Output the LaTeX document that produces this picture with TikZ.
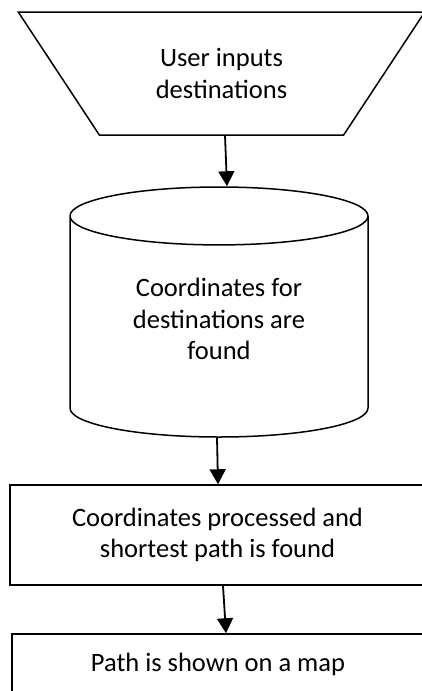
\documentclass[tikz,border=0pt]{standalone}
\usepackage{fontspec}
\setmainfont{Carlito}
\usetikzlibrary{shapes.geometric,arrows.meta}
\tikzset{
  every picture/.style={line join=miter},
  flowline/.style={line width=1.5pt},
  flowarrow/.style={line width=1.8pt, -{Triangle[width=16pt,length=15pt]}},
  boxtext/.style={align=center, font=\fontsize{26.5}{31.5}\selectfont},
}
\begin{document}
\begin{tikzpicture}[x=1pt,y=-1pt]
\useasboundingbox (0,0) rectangle (422,691);
% input step, drawn upside down
\node[flowline, draw, boxtext, trapezium, shape border rotate=180,
  trapezium left angle=51, trapezium right angle=51, trapezium stretches=true,
  minimum width=407pt, minimum height=123pt] (input) at (221.5,73.5)
  {User inputs\\destinations};
% extra depth lifts the text a little above the middle of the drum
\node[flowline, draw, boxtext, cylinder, shape border rotate=90, aspect=0.324,
  text depth=22pt, minimum width=298pt, minimum height=250pt, anchor=shape center]
  (coords) at (219,312) {Coordinates for\\destinations are\\found};
\node[flowline, draw, boxtext, rectangle, minimum width=415pt, minimum height=100pt]
  (process) at (217.5,535) {Coordinates processed and\\shortest path is found};
\node[flowline, draw, boxtext, rectangle, minimum width=412pt, minimum height=60pt]
  (show) at (218,664) {Path is shown on a map};
\draw[flowarrow] ([xshift=3.5pt]input.south) -- ([xshift=8pt]coords.north);
\draw[flowarrow] ([xshift=-2pt]coords.south) -- ([xshift=0.5pt]process.north);
\draw[flowarrow] ([xshift=5.5pt]process.south) -- ([xshift=8pt]show.north);
\end{tikzpicture}
\end{document}
